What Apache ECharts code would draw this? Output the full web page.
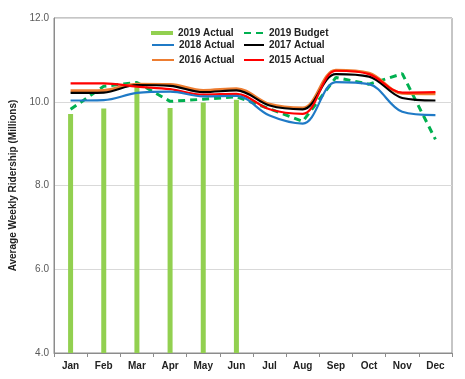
<!DOCTYPE html>
<html>
<head>
<meta charset="utf-8">
<script src="https://cdn.jsdelivr.net/npm/echarts@6/dist/echarts.min.js"></script>
<style>html,body{margin:0;padding:0;background:#fff}#c{width:465px;height:379px}</style>
</head>
<body>
<div id="c"></div>
<script>
const months = ['Jan','Feb','Mar','Apr','May','Jun','Jul','Aug','Sep','Oct','Nov','Dec'];
const actual2019 = [9.71, 9.84, 10.44, 9.85, 9.98, 10.05];
const budget2019 = [9.82, 10.37, 10.46, 10.01, 10.06, 10.12, 9.83, 9.53, 10.58, 10.42, 10.67, 9.10];
const actual2018 = [10.03, 10.04, 10.21, 10.24, 10.13, 10.14, 9.67, 9.48, 10.47, 10.42, 9.76, 9.68];
const actual2017 = [10.21, 10.22, 10.40, 10.38, 10.23, 10.27, 9.91, 9.82, 10.66, 10.60, 10.09, 10.03];
const actual2016 = [10.26, 10.27, 10.42, 10.41, 10.27, 10.31, 9.94, 9.85, 10.75, 10.68, 10.20, 10.19];
const actual2015 = [10.44, 10.44, 10.36, 10.30, 10.17, 10.19, 9.82, 9.71, 10.74, 10.66, 10.22, 10.23];
const yTicks = [4, 6, 8, 10, 12];

const FONT = 'Liberation Sans, Arial, sans-serif';
const legText = {fontFamily: FONT, fontSize: 10, fontWeight: 'bold', color: '#222', lineHeight: 12};
function leg(name, left, top, w, h, isBar) {
  const o = {data: [name], left: left, top: top, padding: 0, itemWidth: w, itemHeight: h,
    itemGap: 0, textStyle: legText, selectedMode: false};
  if (isBar) o.icon = 'rect';
  else o.itemStyle = {opacity: 0};
  return o;
}
const SM = 0.35;
const chart = echarts.init(document.getElementById('c'), null, {renderer: 'canvas'});
chart.setOption({
  animation: false,
  backgroundColor: '#fff',
  grid: {left: 54, right: 13, top: 18, bottom: 26, show: true, borderColor: '#8c8c8c', borderWidth: 1},
  legend: [
    leg('2019 Actual', 151, 27, 22, 4, true),
    leg('2019 Budget', 243, 27, 20, 10),
    leg('2018 Actual', 151, 39, 22, 10),
    leg('2017 Actual', 243, 39, 20, 10),
    leg('2016 Actual', 151, 54, 22, 10),
    leg('2015 Actual', 243, 54, 20, 10)
  ],
  xAxis: {
    type: 'category', data: months, boundaryGap: true,
    axisLine: {lineStyle: {color: '#8c8c8c'}},
    axisTick: {show: true, length: 4, lineStyle: {color: '#8c8c8c'}},
    axisLabel: {fontFamily: FONT, fontSize: 10, fontWeight: 'bold', color: '#222', margin: 8}
  },
  yAxis: {
    type: 'value', min: yTicks[0], max: yTicks[yTicks.length - 1], interval: 2,
    axisLine: {show: true, lineStyle: {color: '#8c8c8c'}},
    axisTick: {show: false},
    axisLabel: {fontFamily: FONT, fontSize: 10, color: '#595959', margin: 5,
      formatter: v => v.toFixed(1)},
    splitLine: {lineStyle: {color: '#d9d9d9'}},
    name: 'Average Weekly Ridership (Millions)', nameLocation: 'middle', nameGap: 33,
    nameTextStyle: {fontFamily: FONT, fontSize: 10, fontWeight: 'bold', color: '#222'}
  },
  series: [
    {name: '2019 Actual', type: 'bar', data: actual2019, barWidth: 5,
      itemStyle: {color: '#92d050'}, z: 1},
    {name: '2019 Budget', type: 'line', data: budget2019, symbol: 'none', smooth: false,
      lineStyle: {color: '#00b050', width: 3, type: [7, 5]}, itemStyle: {color: '#00b050'}, z: 2},
    {name: '2016 Actual', type: 'line', data: actual2016, symbol: 'none', smooth: SM,
      lineStyle: {color: '#ed7d31', width: 3}, itemStyle: {color: '#ed7d31'}, z: 3},
    {name: '2017 Actual', type: 'line', data: actual2017, symbol: 'none', smooth: SM,
      lineStyle: {color: '#000000', width: 2.2}, itemStyle: {color: '#000000'}, z: 4},
    {name: '2015 Actual', type: 'line', data: actual2015, symbol: 'none', smooth: SM,
      lineStyle: {color: '#ff0000', width: 2.2}, itemStyle: {color: '#ff0000'}, z: 5},
    {name: '2018 Actual', type: 'line', data: actual2018, symbol: 'none', smooth: SM,
      lineStyle: {color: '#1f7ac6', width: 2.2}, itemStyle: {color: '#1f7ac6'}, z: 6}
  ]
});
</script>
</body>
</html>
